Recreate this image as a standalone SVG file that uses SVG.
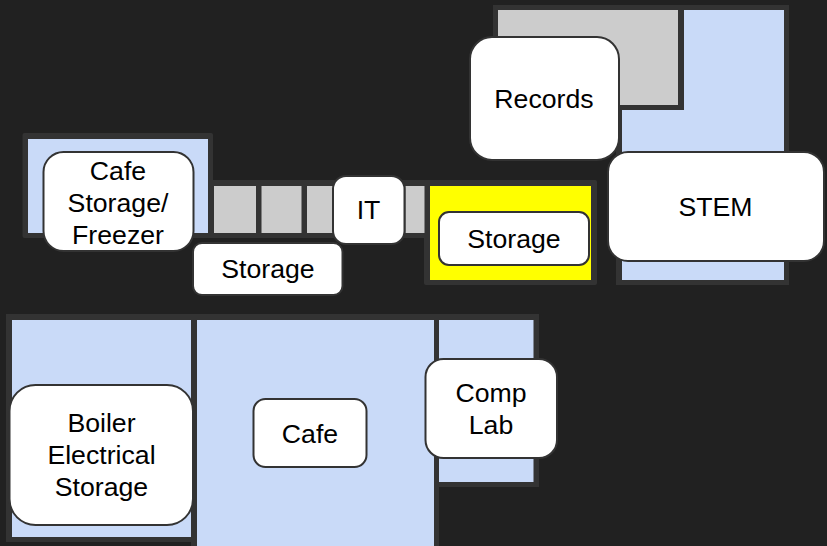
<svg xmlns="http://www.w3.org/2000/svg" width="827" height="546" viewBox="0 0 827 546">
<style>
.w{fill:#333333}
.b{fill:#c9daf8}
.g{fill:#cccccc}
.y{fill:#ffff00}
.n{fill:#ffffff;stroke:#333333;stroke-width:2}
text{font-family:"Liberation Sans",Arial,sans-serif;font-size:26.670px;fill:#000000;text-anchor:middle}
</style>
<rect width="827" height="546" fill="#212121"/>
<g id="rooms">
<rect class="w" x="22.500" y="133" width="190.500" height="105" rx="2"/>
<rect class="w" x="208" y="180" width="222" height="58"/>
<rect class="w" x="424" y="180" width="173" height="105" rx="2"/>
<path class="w" d="M493 5H789V285H616V110H493Z"/>
<path class="w" d="M6 314H539V487H439V546H191V542H6Z"/>
<rect class="b" x="28" y="139" width="180" height="94"/>
<rect class="g" x="214" y="186" width="42" height="47"/>
<rect class="g" x="261.500" y="186" width="40" height="47"/>
<rect class="g" x="307" y="186" width="40" height="47"/>
<rect class="g" x="405.500" y="186" width="19" height="47"/>
<rect class="y" x="430" y="186" width="161" height="94"/>
<rect class="g" x="498" y="10" width="180" height="95"/>
<path class="b" d="M684 10H784V280H622V110H684Z"/>
<rect class="b" x="12" y="320" width="179" height="217"/>
<rect class="b" x="197" y="320" width="237" height="226"/>
<rect class="b" x="439" y="320" width="94.500" height="162"/>
</g>
<g id="connectors"/>
<g id="node-cafe-storage"><rect class="n" x="43.500" y="152" width="150" height="99" rx="20"/><text x="118" y="180">Cafe</text><text x="118" y="212">Storage/</text><text x="118" y="244">Freezer</text></g>
<g id="node-storage-1"><rect class="n" x="193" y="243" width="149.500" height="52" rx="9"/><text x="268" y="278">Storage</text></g>
<g id="node-it"><rect class="n" x="333" y="176" width="71.500" height="68" rx="13"/><text x="368.500" y="219">IT</text></g>
<g id="node-storage-2"><rect class="n" x="439" y="212" width="150" height="53" rx="10"/><text x="514" y="248">Storage</text></g>
<g id="node-records"><rect class="n" x="470" y="37" width="149" height="123" rx="22"/><text x="544" y="108">Records</text></g>
<g id="node-stem"><rect class="n" x="608" y="152" width="216" height="109" rx="20"/><text x="715.500" y="216">STEM</text></g>
<g id="node-boiler"><rect class="n" x="9.500" y="385" width="183.500" height="140" rx="26"/><text x="101.500" y="432">Boiler</text><text x="101.500" y="464">Electrical</text><text x="101.500" y="496">Storage</text></g>
<g id="node-cafe"><rect class="n" x="253.500" y="399" width="113" height="68" rx="12"/><text x="310" y="443">Cafe</text></g>
<g id="node-comp-lab"><rect class="n" x="425.500" y="359" width="131.500" height="99" rx="18"/><text x="491" y="402">Comp</text><text x="491" y="434">Lab</text></g>
</svg>
